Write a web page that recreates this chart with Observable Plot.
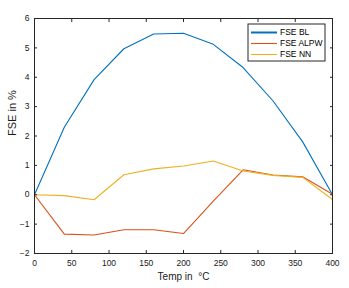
<!DOCTYPE html>
<html><head><meta charset="utf-8">
<script src="https://cdn.jsdelivr.net/npm/d3@7"></script>
<script src="https://cdn.jsdelivr.net/npm/@observablehq/plot@0.6"></script>
<style>body{margin:0;background:#fff}</style>
</head><body><div id="chart"></div>
<script>
const temps = [0, 40, 80, 120, 160, 200, 240, 280, 320, 360, 400];
const fseBL = [0, 2.3, 3.92, 4.97, 5.47, 5.5, 5.12, 4.33, 3.2, 1.8, 0];
const fseALPW = [0, -1.34, -1.37, -1.19, -1.19, -1.32, -0.22, 0.85, 0.67, 0.61, 0.02];
const fseNN = [0, -0.03, -0.17, 0.68, 0.88, 0.98, 1.15, 0.81, 0.66, 0.59, -0.16];
const seriesNames = ["FSE BL", "FSE ALPW", "FSE NN"];
const seriesColors = ["#0072BD", "#D95319", "#EDB120"];
const xTicks = [0, 50, 100, 150, 200, 250, 300, 350, 400];
const yTicks = [-2, -1, 0, 1, 2, 3, 4, 5, 6];

const rows = [];
[fseBL, fseALPW, fseNN].forEach((vals, i) => vals.forEach((v, j) => rows.push({t: temps[j], v, s: seriesNames[i]})));

const font = "Liberation Sans, Arial, Helvetica, sans-serif";
const chart = Plot.plot({
  width: 349, height: 288,
  marginLeft: 34, marginRight: 17, marginTop: 18, marginBottom: 35,
  style: {fontFamily: font, fontSize: "8.5px", color: "#1a1a1a", background: "#fff"},
  x: {domain: [0, 400], ticks: xTicks},
  y: {domain: [-2, 6], ticks: yTicks},
  color: {domain: seriesNames, range: seriesColors},
  marks: [
    Plot.line(rows, {x: "t", y: "v", stroke: "s", strokeWidth: 1.1}),
    Plot.axisX({anchor: "bottom", ticks: xTicks, tickSize: 0, tickPadding: 6, label: null, fontSize: 8.5}),
    Plot.text(["Temp in  °C"], {frameAnchor: "bottom", text: d => d, dy: 26, fontSize: 10, fill: "#1a1a1a"}),
    Plot.axisX({anchor: "bottom", ticks: xTicks, tickSize: -3, text: null, label: null, stroke: "#262626"}),
    Plot.axisX({anchor: "top", ticks: xTicks, tickSize: -3, text: null, label: null, stroke: "#262626"}),
    Plot.axisY({anchor: "left", ticks: yTicks, tickSize: 0, tickPadding: 5, label: null, fontSize: 8.5}),
    Plot.text(["FSE in %"], {frameAnchor: "left", text: d => d, rotate: -90, dx: -22, fontSize: 11, fill: "#1a1a1a"}),
    Plot.axisY({anchor: "left", ticks: yTicks, tickSize: -3, text: null, label: null, stroke: "#262626"}),
    Plot.axisY({anchor: "right", ticks: yTicks, tickSize: -3, text: null, label: null, stroke: "#262626"}),
    Plot.frame({stroke: "#262626", strokeWidth: 1})
  ]
});
document.getElementById("chart").appendChild(chart);

// legend drawn inside the SVG (top right)
const svg = d3.select(chart);
const lg = svg.append("g").attr("transform", "translate(248,24)");
lg.append("rect").attr("width", 77).attr("height", 37).attr("fill", "#fff").attr("stroke", "#262626").attr("stroke-width", 1);
seriesNames.forEach((n, i) => {
  const y = 8.5 + i * 11;
  lg.append("line").attr("x1", 3).attr("x2", 29).attr("y1", y).attr("y2", y).attr("stroke", seriesColors[i]).attr("stroke-width", i === 0 ? 2 : 1.1);
  lg.append("text").attr("x", 32).attr("y", y).attr("dy", "0.35em").attr("text-anchor", "start").attr("font-size", 8.5).attr("font-family", font).attr("fill", "#000").text(n);
});
</script>
</body></html>
